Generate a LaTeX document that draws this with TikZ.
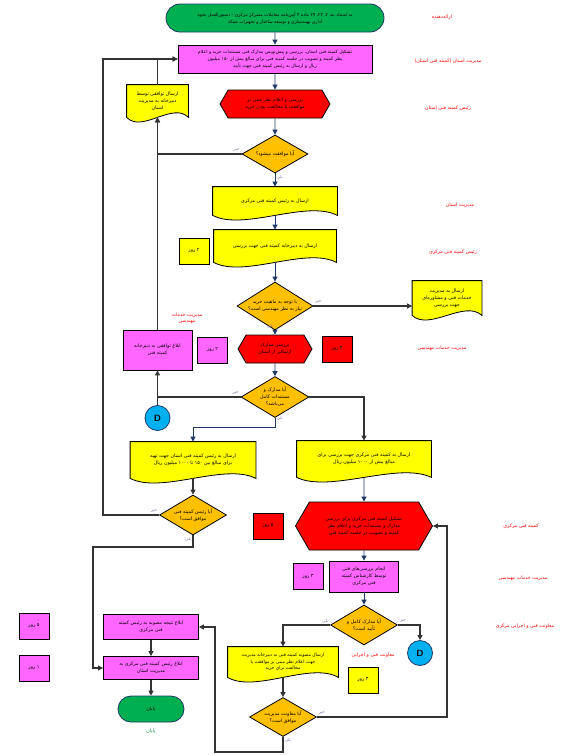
\documentclass[tikz,border=0pt]{standalone}
\usepackage{fontspec}
\newfontfamily\arabicfont[Script=Arabic]{DejaVu Sans}
\TeXXeTstate=1
\usetikzlibrary{positioning,calc,shapes.geometric,shapes.misc,shapes.symbols,arrows.meta}

\definecolor{tpcgreen}{RGB}{0,176,80}
\definecolor{tpcpink}{RGB}{255,102,255}
\definecolor{tpcred}{RGB}{255,0,0}
\definecolor{tpcyellow}{RGB}{255,255,0}
\definecolor{tpcorange}{RGB}{255,192,0}
\definecolor{tpccyan}{RGB}{0,176,240}
\definecolor{navyline}{RGB}{31,56,100}
\definecolor{notecol}{RGB}{128,100,162}

\pgfdeclarelayer{background}
\pgfsetlayers{background,main}

\newcommand{\rl}[1]{\beginR #1\endR}
% yellow sheet with a wavy lower edge, drawn behind the node
\newcommand{\docpath}[1]{%
  \filldraw[fill=tpcyellow, draw=black, line width=0.8pt]
    (#1.south west) -- (#1.north west) -- (#1.north east) -- (#1.south east)
    .. controls ($(#1.south)!0.5!(#1.south east)+(0,-16)$) and ($(#1.south west)!0.5!(#1.south)+(0,16)$) .. (#1.south west) -- cycle;}

\tikzset{
  base/.style={draw=black, line width=0.8pt, align=center, inner sep=1pt,
    font=\arabicfont\fontsize{4.8}{7}\selectfont},
  terminal/.style={base, rounded rectangle, fill=tpcgreen, draw=navyline},
  process/.style={base, rectangle, fill=tpcpink},
  prep/.style={base, signal, signal to=west and east, signal pointer angle=120, fill=tpcred},
  decision/.style={base, diamond, aspect=1.6, inner sep=0pt, fill=tpcorange},
  doc/.style={base, draw=none},
  days/.style={base, minimum width=30pt, minimum height=26pt},
  connector/.style={base, circle, fill=tpccyan, draw=navyline, minimum size=25pt,
    font=\sffamily\bfseries\small},
  role/.style={align=center, text=red, font=\arabicfont\fontsize{4.8}{6.4}\selectfont},
  lbl/.style={text=notecol, inner sep=1.5pt, font=\arabicfont\fontsize{4}{4}\selectfont},
  link/.style={draw=navyline, line width=0.9pt, -{Triangle[length=5pt,width=5pt]}},
  loopline/.style={draw=black!80, line width=1.1pt, -{Triangle[length=5pt,width=5pt]}}
}

\begin{document}
\begin{tikzpicture}[x=1pt,y=-1pt]
\useasboundingbox (0,0) rectangle (582,755);

% main column
\node[terminal, minimum width=220pt, minimum height=28pt, font=\arabicfont\fontsize{4.5}{7}\selectfont] (start) at (275,18)
  {\rl{به استناد بند ۲، ۲۳، ۲۹ ماده ۳ آیین‌نامه معاملات متمرکز مرکزی - دستورالعمل نحوه}\\
   \rl{اداری بهینه‌سازی و توسعه ساختار و تجهیزات شبکه}};
\node[process, minimum width=194pt, minimum height=28pt, font=\arabicfont\fontsize{4.6}{7}\selectfont] (tpcBox) at (275,59)
  {\rl{تشکیل کمیته فنی استان، بررسی و پیش‌نویس مدارک فنی مستندات خرید و اعلام}\\
   \rl{نظر کمیته و تصویب در جلسه کمیته فنی برای مبالغ بیش از ۱۵۰ میلیون}\\
   \rl{ریال و ارسال به رئیس کمیته فنی جهت تأیید}};
\node[prep, minimum width=110pt, minimum height=28pt] (hexA) at (275,104)
  {\rl{بررسی و اعلام نظر مبنی بر}\\ \rl{موافقت یا مخالفت بودن خرید}};
\node[decision, minimum width=66pt, minimum height=38pt] (decA) at (275,154)
  {\rl{آیا موافقت میشود؟}};
\node[doc, minimum width=61pt, minimum height=32pt] (returnDoc) at (157.5,101)
  {\rl{ارسال توافقی توسط}\\ \rl{دبیرخانه به مدیریت}\\ \rl{استان}};
\node[doc, minimum width=124pt, minimum height=28pt] (docCentral) at (275,201)
  {\rl{ارسال به رئیس کمیته فنی مرکزی}};
\node[doc, minimum width=122pt, minimum height=32pt] (docSecretariat) at (275,246)
  {\rl{ارسال به دبیرخانه کمیته فنی جهت بررسی}};
\node[days, fill=tpcyellow] (dayA) at (194,251) {\rl{۲ روز}};
\node[decision, minimum width=76pt, minimum height=48pt] (decB) at (275,306)
  {\rl{با توجه به ماهیت خرید}\\ \rl{نیاز به نظر مهندسی است؟}};
\node[doc, minimum width=69pt, minimum height=34pt] (docEng) at (447,298)
  {\rl{ارسال به مدیریت}\\ \rl{خدمات فنی و مشاوره‌ای}\\ \rl{جهت بررسی}};
\node[prep, minimum width=74pt, minimum height=28pt] (hexB) at (275,349)
  {\rl{بررسی مدارک}\\ \rl{ارسالی از استان}};
\node[days, fill=tpcred] (dayB) at (337,349) {\rl{۳ روز}};
\node[days, fill=tpcpink] (dayC) at (212.5,350) {\rl{۲ روز}};
\node[process, minimum width=69pt, minimum height=40pt] (notifyBox) at (157.5,350)
  {\rl{ابلاغ توافقی به دبیرخانه}\\ \rl{کمیته فنی}};
\node[decision, minimum width=68pt, minimum height=41pt] (decC) at (275,397)
  {\rl{آیا مدارک و}\\ \rl{مستندات کامل}\\ \rl{می‌باشد؟}};
\node[connector] (dotA) at (157.5,418) {D};

% two branches
\node[doc, minimum width=125pt, minimum height=36pt] (docProv) at (193,460)
  {\rl{ارسال به رئیس کمیته فنی استان جهت تهیه}\\
   \rl{برای مبالغ بین ۱۵۰ تا ۱۰۰۰ میلیون ریال}};
\node[doc, minimum width=134pt, minimum height=36pt] (docCen) at (364,459)
  {\rl{ارسال به کمیته فنی مرکزی جهت بررسی برای}\\
   \rl{مبالغ بیش از ۱۰۰۰ میلیون ریال}};
\node[decision, minimum width=67pt, minimum height=40pt] (decD) at (193,515)
  {\rl{آیا رئیس کمیته فنی}\\ \rl{موافق است؟}};
\node[prep, minimum width=137pt, minimum height=48pt] (hexC) at (364,526)
  {\rl{تشکیل کمیته فنی مرکزی برای بررسی}\\
   \rl{مدارک و مستندات خرید و اعلام نظر}\\
   \rl{کمیته و تصویب در جلسه کمیته فنی}};
\node[days, fill=tpcred] (dayD) at (268,526) {\rl{۵ روز}};
\node[process, minimum width=69pt, minimum height=31pt] (reviewBox) at (364,576.5)
  {\rl{انجام بررسی‌های فنی}\\ \rl{توسط کارشناس کمیته}\\ \rl{فنی مرکزی}};
\node[days, fill=tpcpink] (dayE) at (308,576.5) {\rl{۳ روز}};
\node[decision, minimum width=67pt, minimum height=40pt] (decE) at (364,625)
  {\rl{آیا مدارک کامل و}\\ \rl{تأیید است؟}};
\node[connector] (dotB) at (420,653) {D};
\node[doc, minimum width=110pt, minimum height=30pt, font=\arabicfont\fontsize{4.5}{6.6}\selectfont] (docDeputy) at (283,662)
  {\rl{ارسال مصوبه کمیته فنی به دبیرخانه مدیریت}\\
   \rl{جهت اعلام نظر مبنی بر موافقت یا}\\ \rl{مخالفت برای خرید}};
\node[days, fill=tpcyellow] (dayF) at (363,680) {\rl{۳ روز}};
\node[decision, minimum width=67pt, minimum height=39pt] (decF) at (283,717)
  {\rl{آیا معاونت مدیریت}\\ \rl{موافق است؟}};

% end of the chart
\node[process, minimum width=95pt, minimum height=25pt] (notifyCen) at (151,627)
  {\rl{ابلاغ نتیجه مصوبه به رئیس کمیته}\\ \rl{فنی مرکزی}};
\node[process, minimum width=95pt, minimum height=23pt] (notifyProv) at (151,668)
  {\rl{ابلاغ رئیس کمیته فنی مرکزی به}\\ \rl{مدیریت استان}};
\node[terminal, minimum width=68pt, minimum height=26pt] (finish) at (151,709) {\rl{پایان}};
\node[role, text=tpcgreen!80!black] (finishLabel) at (151,731) {\rl{پایان}};
\node[days, fill=tpcpink] (legendA) at (34,626) {\rl{۵ روز}};
\node[days, fill=tpcpink] (legendB) at (34,668) {\rl{۱ روز}};

% who does what
\node[role] (roleA) at (442,17) {\rl{ارائه‌دهنده}};
\node[role] (roleB) at (448,61) {\rl{مدیریت استان (کمیته فنی استان)}};
\node[role] (roleC) at (448,108) {\rl{رئیس کمیته فنی استان}};
\node[role] (roleD) at (460,205) {\rl{مدیریت استان}};
\node[role] (roleE) at (453,252) {\rl{رئیس کمیته فنی مرکزی}};
\node[role] (roleF) at (442,348) {\rl{مدیریت خدمات مهندسی}};
\node[role] (roleG) at (187,318) {\rl{مدیریت خدمات}\\ \rl{مهندسی}};
\node[role] (roleH) at (521,526) {\rl{کمیته فنی مرکزی}};
\node[role] (roleI) at (523,578) {\rl{مدیریت خدمات مهندسی}};
\node[role] (roleJ) at (525,626) {\rl{معاونت فنی و اجرایی مرکزی}};
\node[role] (roleK) at (373,655) {\rl{معاونت فنی و اجرایی}};

\begin{pgfonlayer}{background}
  \docpath{returnDoc}
  \docpath{docCentral}
  \docpath{docSecretariat}
  \docpath{docEng}
  \docpath{docProv}
  \docpath{docCen}
  \docpath{docDeputy}
\end{pgfonlayer}

\coordinate (loopX) at (103,0);
\coordinate (loopB) at (93,547);
\coordinate (loopC) at (447,0);
\coordinate (loopD) at (215,752);

\draw[link] (start) -- (tpcBox);
\draw[link] (tpcBox) -- (hexA);
\draw[link] (hexA) -- (decA);
\draw[link] (decA.south) node[lbl, below right]{\rl{بلی}} -- (docCentral);
\draw[loopline] (decA.west) node[lbl, above left]{\rl{خیر}} -| (returnDoc.south);
\draw[loopline] (returnDoc.north) |- (tpcBox.west);
\draw[loopline] (notifyBox.north) -- (returnDoc.south);
\draw[link] (docCentral) -- (docSecretariat);
\draw[link] (docSecretariat) -- (decB);
\draw[loopline] (decB.east) node[lbl, above right]{\rl{خیر}} -- (decB.east -| docEng.west);
\draw[link] (decB.south) node[lbl, above left]{\rl{بلی}} -- (hexB);
\draw[link] (hexB) -- (decC);
\draw[loopline] (decC.west) node[lbl, above left]{\rl{خیر}} -| (notifyBox.south);
\draw[loopline, -] (dotA) -- (notifyBox.south |- decC.west);
\draw[link] (decC.south) node[lbl, right]{\rl{بلی}} -- ++(0,10) -| (docProv.north);
\draw[loopline] (decC.east) -| (docCen.north);
\draw[loopline] (docProv) -- (decD);
\draw[loopline] (decD.west) node[lbl, above left]{\rl{خیر}} -| (tpcBox.west -| loopX) -- (tpcBox.west);
\draw[loopline] (decD.south) node[lbl, below left]{\rl{بلی}} |- (loopB) |- (notifyProv.west);
\draw[link] (docCen) -- (hexC);
\draw[link] (hexC) -- (reviewBox);
\draw[link] (reviewBox) -- (decE);
\draw[loopline] (decE.east) node[lbl, above right]{\rl{خیر}} -| (dotB.north);
\draw[loopline] (decE.west) node[lbl, above left]{\rl{بلی}} -| (docDeputy.north);
\draw[loopline] (docDeputy) -- (decF);
\draw[loopline] (decF.east) node[lbl, above right]{\rl{خیر}} -| (hexC.east -| loopC) -- (hexC.east);
\draw[loopline] (decF.south) node[lbl, below right]{\rl{بلی}} |- (loopD) |- (notifyCen.east);
\draw[loopline] (notifyCen) -- (notifyProv);
\draw[loopline] (notifyProv) -- (finish);
\end{tikzpicture}
\end{document}
